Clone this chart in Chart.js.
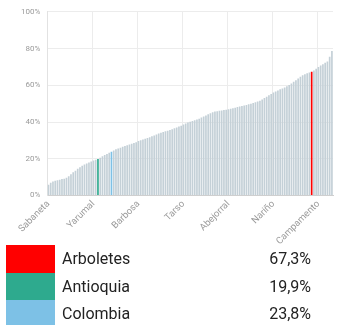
<!DOCTYPE html>
<html>
<head>
<meta charset="utf-8">
<script src="https://cdn.jsdelivr.net/npm/chart.js@4/dist/chart.umd.min.js"></script>
<style>
  html, body { margin: 0; padding: 0; background: #fff; overflow: hidden; }
  body { width: 343px; height: 325px; position: relative; font-family: Roboto, "Noto Sans", sans-serif; }
  #wrap { position: absolute; left: 0; top: 0; width: 343px; height: 250px; }
  #leyenda { position: absolute; left: 6px; top: 245px; width: 305px; border-collapse: collapse; }
  #leyenda td { padding: 0; height: 27.5px; font-size: 16px; color: #222; }
  #leyenda td.caja { width: 49px; }
  #leyenda td.nombre { padding-left: 7px; }
  #leyenda td.valor { text-align: right; }
</style>
</head>
<body>
<div id="wrap"><canvas id="grafico"></canvas></div>
<table id="leyenda"></table>
<script>
// municipios ordenados de menor a mayor, con Antioquia y Colombia intercalados
const municipios = [
  "Sabaneta", "Envigado", "Itagüí", "Medellín", "La Estrella",
  "Rionegro", "Caldas", "Bello", "Copacabana", "Girardota",
  "El Retiro", "La Ceja", "Marinilla", "Guarne", "Donmatías",
  "Entrerríos", "El Carmen de Viboral", "San Pedro de los Milagros", "Santa Rosa de Osos", "Jardín",
  "Yarumal", "La Unión", "Antioquia", "Guatapé", "El Santuario",
  "Jericó", "Andes", "Santa Fe de Antioquia", "Colombia", "Puerto Berrío",
  "Fredonia", "Amagá", "Santa Bárbara", "Belmira", "Támesis",
  "Venecia", "Titiribí", "Concordia", "Angelópolis", "La Pintada",
  "Barbosa", "Ciudad Bolívar", "Salgar", "San Jerónimo", "Sopetrán",
  "Yalí", "Cisneros", "Puerto Nare", "Hispania", "Pueblorrico",
  "Montebello", "Caramanta", "Betania", "El Peñol", "Granada",
  "Gómez Plata", "Carolina del Príncipe", "Guadalupe", "Heliconia", "Concepción",
  "Tarso", "Ebéjico", "Betulia", "San Vicente Ferrer", "Puerto Triunfo",
  "Caucasia", "Apartadó", "Alejandría", "Sonsón", "Armenia",
  "Santo Domingo", "San Roque", "Amalfi", "Yolombó", "Maceo",
  "San José de la Montaña", "Liborina", "Olaya", "Angostura", "San Rafael",
  "Abejorral", "Caracolí", "Yondó", "San Luis", "Cocorná",
  "Vegachí", "Giraldo", "Urrao", "Segovia", "Remedios",
  "Chigorodó", "Carepa", "Valparaíso", "San Carlos", "Toledo",
  "Sabanalarga", "Anzá", "Buriticá", "Frontino", "Argelia",
  "Nariño", "Caicedo", "Abriaquí", "Cañasgordas", "San Andrés de Cuerquia",
  "Zaragoza", "Uramita", "Valdivia", "Turbo", "Anorí",
  "Dabeiba", "San Francisco", "Ituango", "Tarazá", "Briceño",
  "Cáceres", "Peque", "Arboletes", "Mutatá", "El Bagre",
  "Campamento", "Nechí", "San Juan de Urabá", "Necoclí", "San Pedro de Urabá",
  "Vigía del Fuerte", "Murindó"
];

const porcentajes = [
  5.8, 6.9, 7.6, 8.0, 8.3,
  8.6, 8.9, 9.1, 9.6, 10.4,
  11.5, 12.6, 13.5, 14.6, 15.4,
  16.2, 16.9, 17.4, 17.9, 18.5,
  19.0, 19.5, 19.9, 20.6, 21.3,
  22.0, 22.6, 23.2, 23.8, 24.5,
  25.1, 25.6, 26.0, 26.5, 26.9,
  27.3, 27.7, 28.1, 28.6, 29.0,
  29.6, 30.1, 30.5, 30.9, 31.3,
  31.7, 32.2, 32.7, 33.2, 33.7,
  34.1, 34.5, 34.9, 35.3, 35.7,
  36.1, 36.6, 37.0, 37.5, 38.0,
  38.6, 39.2, 39.7, 40.2, 40.6,
  41.0, 41.4, 41.8, 42.4, 43.0,
  43.6, 44.2, 44.8, 45.3, 45.7,
  45.9, 46.1, 46.3, 46.5, 46.7,
  46.9, 47.2, 47.5, 47.8, 48.1,
  48.4, 48.7, 49.0, 49.3, 49.6,
  50.0, 50.4, 50.8, 51.2, 51.6,
  52.2, 53.0, 53.8, 54.6, 55.3,
  56.0, 56.6, 57.2, 57.8, 58.3,
  58.8, 59.4, 60.2, 61.0, 61.9,
  62.8, 63.7, 64.6, 65.4, 66.0,
  66.5, 66.9, 67.3, 68.1, 69.0,
  70.0, 70.8, 71.5, 72.2, 73.0,
  75.5, 78.6
];

const destacados = ["Arboletes", "Antioquia", "Colombia"];
const coloresDestacados = ["#ff0000", "#2eaa8e", "#7dc1e6"];
const ticksY = [0, 20, 40, 60, 80, 100];
const pasoEtiquetas = 20;

const colorBarra = "#c4d0d7";

const coloresBarras = municipios.map(m => {
  const i = destacados.indexOf(m);
  return i >= 0 ? coloresDestacados[i] : colorBarra;
});

new Chart(document.getElementById("grafico"), {
  type: "bar",
  data: {
    labels: municipios,
    datasets: [{
      data: porcentajes,
      backgroundColor: coloresBarras,
      barPercentage: 0.75,
      categoryPercentage: 1
    }]
  },
  options: {
    responsive: true,
    maintainAspectRatio: false,
    animation: false,
    events: [],
    layout: { padding: { top: 2, left: 14, right: 5, bottom: 0 } },
    plugins: { legend: { display: false }, tooltip: { enabled: false } },
    scales: {
      x: {
        border: { color: "#cfcfcf" },
        grid: {
          color: c => (c.index % pasoEtiquetas === 0 ? "#ececec" : "transparent"),
          drawTicks: false
        },
        ticks: {
          autoSkip: false,
          maxRotation: 45,
          minRotation: 45,
          padding: 3,
          color: "#9a9a9a",
          font: { size: 9.5, family: "Roboto" },
          callback: (v, i) => (i % pasoEtiquetas === 0 ? municipios[i] : "")
        }
      },
      y: {
        min: 0,
        max: 100,
        afterBuildTicks: ax => { ax.ticks = ticksY.map(v => ({ value: v })); },
        border: { color: "#e2e2e2" },
        grid: { color: "#ececec", drawTicks: false },
        ticks: {
          padding: 7,
          color: "#9a9a9a",
          font: { size: 8, family: "Roboto" },
          callback: v => v + "%"
        }
      }
    }
  }
});

// tabla de convenciones bajo el gráfico
const tabla = document.getElementById("leyenda");
destacados.forEach((nombre, i) => {
  const valor = porcentajes[municipios.indexOf(nombre)];
  const fila = document.createElement("tr");
  fila.innerHTML =
    '<td class="caja" style="background:' + coloresDestacados[i] + '"></td>' +
    '<td class="nombre">' + nombre + '</td>' +
    '<td class="valor">' + valor.toFixed(1).replace(".", ",") + '%</td>';
  tabla.appendChild(fila);
});
</script>
</body>
</html>
